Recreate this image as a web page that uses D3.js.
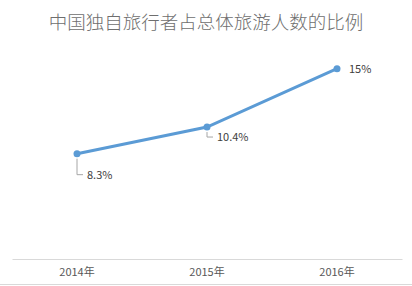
<!DOCTYPE html>
<meta charset="utf-8" />
<head>
  <script src="https://d3js.org/d3.v7.min.js"></script>
  <style>
    body { margin: 0; background: #fff; }
    svg { font-family: "Noto Sans CJK SC", "Open Sans", sans-serif; }
  </style>
</head>
<body>
  <div id="my_data"></div>
</body>
<script>
  // data
  var years = ["2014年", "2015年", "2016年"];
  var shares = [8.3, 10.4, 15];
  var labels = ["8.3%", "10.4%", "15%"];
  var title = "中国独自旅行者占总体旅游人数的比例";

  var W = 412, H = 286;

  var svg = d3.select("#my_data").append("svg")
    .attr("width", W).attr("height", H);

  // title
  svg.append("text")
    .attr("x", 206).attr("y", 29)
    .attr("text-anchor", "middle")
    .style("font-size", "18.5px")
    .style("font-weight", "300")
    .style("fill", "#6e6e6e")
    .text(title);

  var x = d3.scaleBand().domain(years).range([12, 402]);
  var y = d3.scaleLinear().domain([0, 18]).range([259, 30.6]);

  // x axis
  var xAxis = svg.append("g")
    .attr("transform", "translate(0,259)")
    .call(d3.axisBottom(x).tickSize(0).tickPadding(9));
  xAxis.select(".domain").attr("stroke", "#d9d9d9");
  xAxis.selectAll("text")
    .style("font-size", "11px")
    .style("fill", "#595959")
    .style("font-family", "'Noto Sans CJK SC', sans-serif");

  // bottom border
  svg.append("line")
    .attr("x1", 0).attr("x2", W)
    .attr("y1", 284.5).attr("y2", 284.5)
    .attr("stroke", "#d9d9d9");

  var data = years.map(function (d, i) {
    return { year: d, value: shares[i], label: labels[i] };
  });
  var cx = function (d) { return x(d.year) + x.bandwidth() / 2; };

  svg.append("path")
    .datum(data)
    .attr("d", d3.line().x(cx).y(function (d) { return y(d.value); }))
    .attr("fill", "none")
    .attr("stroke", "#5B9BD5")
    .attr("stroke-width", 3);

  svg.selectAll("circle").data(data).enter().append("circle")
    .attr("cx", cx)
    .attr("cy", function (d) { return y(d.value); })
    .attr("r", 3.5)
    .attr("fill", "#5B9BD5");

  // leader lines for first two labels
  var leaderDrop = [21, 10, 0];
  data.forEach(function (d, i) {
    var px = cx(d), py = y(d.value);
    if (leaderDrop[i] > 0) {
      svg.append("path")
        .attr("d", "M" + px + "," + (py + 5) + "V" + (py + leaderDrop[i]) + "H" + (px + 6))
        .attr("fill", "none")
        .attr("stroke", "#a6a6a6")
        .attr("stroke-width", 1);
      svg.append("text")
        .attr("x", px + 10).attr("y", py + leaderDrop[i] + 4)
        .style("font-size", "11px").style("fill", "#404040")
        .text(d.label);
    } else {
      svg.append("text")
        .attr("x", px + 12).attr("y", py + 4)
        .style("font-size", "11px").style("fill", "#404040")
        .text(d.label);
    }
  });
</script>
